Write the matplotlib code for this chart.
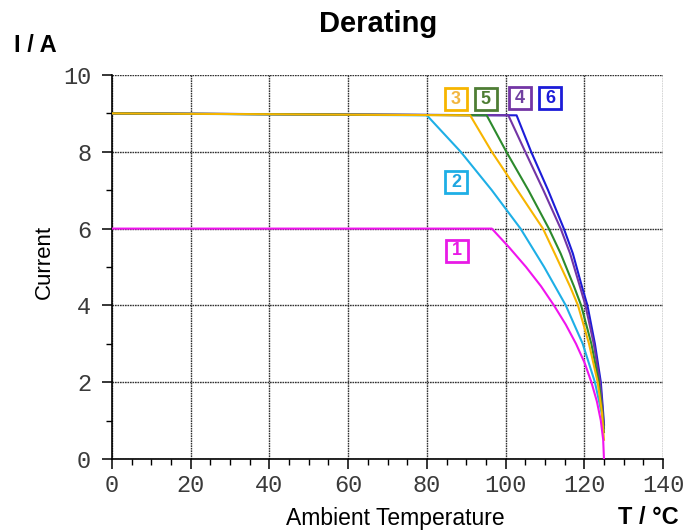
import matplotlib
matplotlib.use("Agg")
import matplotlib.pyplot as plt
from matplotlib.ticker import MultipleLocator

# ---- data ----
t1 = [0, 96.5, 101.0, 105.2, 109.0, 112.3, 115.3, 117.9, 120.1, 121.8, 123.2, 124.2, 124.8, 125.0]
i1 = [6.0, 6.0, 5.5, 5.0, 4.5, 4.0, 3.5, 3.0, 2.5, 2.0, 1.5, 1.0, 0.5, 0.0]

t2 = [0, 80.0, 88.6, 96.5, 103.8, 109.8, 115.3, 119.6, 122.7, 124.4, 125.0]
i2 = [9.0, 8.95, 8.0, 7.0, 6.0, 5.0, 4.0, 3.0, 2.0, 1.2, 0.9]

t3 = [0, 91.0, 96.5, 103.0, 109.5, 112.5, 116.4, 118.4, 121.2, 123.4, 124.5, 125.0]
i3 = [9.0, 8.95, 8.0, 7.0, 6.0, 5.35, 4.49, 4.0, 3.0, 2.0, 1.2, 0.5]

t5 = [0, 95.2, 100.2, 105.8, 111.0, 114.0, 117.4, 119.2, 121.8, 123.7, 124.6, 125.0]
i5 = [9.0, 8.95, 8.0, 7.0, 6.0, 5.35, 4.49, 4.0, 3.0, 2.0, 1.2, 0.7]

t4 = [0, 100.7, 105.0, 109.6, 114.0, 116.4, 118.9, 120.3, 122.4, 124.0, 124.7, 125.0]
i4 = [9.0, 8.95, 8.0, 7.0, 6.0, 5.35, 4.49, 4.0, 3.0, 2.0, 1.2, 0.8]

t6 = [0, 102.8, 106.5, 110.8, 114.8, 117.1, 119.4, 120.8, 122.7, 124.2, 124.8, 125.0]
i6 = [9.0, 8.95, 8.0, 7.0, 6.0, 5.35, 4.49, 4.0, 3.0, 2.0, 1.2, 0.9]

labels = ["1", "2", "3", "4", "5", "6"]
label_t = [87.6, 87.4, 87.4, 103.7, 95.0, 111.3]
label_i = [5.42, 7.21, 9.37, 9.40, 9.37, 9.40]

colors = {"1": "#F014EE", "2": "#1EAFE6", "3": "#F7B500",
          "4": "#7335A5", "5": "#2C8A2C", "6": "#1C1CD8"}
text_colors = {"1": "#E81AE6", "2": "#1EA6E0", "3": "#F2B640",
               "4": "#7040A0", "5": "#4E7D34", "6": "#1C1CD8"}
box_edge = {"1": "#E81AE6", "2": "#1EAFE6", "3": "#F7B500",
            "4": "#7335A5", "5": "#4E7D34", "6": "#1C1CD8"}

xticks = [0, 20, 40, 60, 80, 100, 120, 140]
yticks = [0, 2, 4, 6, 8, 10]

# ---- figure ----
W, H = 697, 531
fig = plt.figure(figsize=(W / 100, H / 100), dpi=100)
ax = fig.add_axes([112 / W, 1 - 459 / H, (663 - 112) / W, (459 - 75) / H])

series = [("2", t2, i2), ("6", t6, i6), ("4", t4, i4), ("5", t5, i5),
          ("3", t3, i3), ("1", t1, i1)]
for key, t, i in series:
    ax.plot(t, i, color=colors[key], lw=1.5, solid_joinstyle="round", zorder=3)

for lab, x, y in zip(labels, label_t, label_i):
    ax.plot(x, y, marker="s", ms=16.5, mfc="white", mec=box_edge[lab], mew=2.0,
            zorder=5, clip_on=False)
    ax.text(x, y, lab, color=text_colors[lab], fontsize=13, fontweight="bold",
            family="Liberation Sans", ha="center", va="center", zorder=6)

ax.set_xlim(0, 140)
ax.set_ylim(0, 10)
ax.set_xticks(xticks)
ax.set_yticks(yticks)
ax.xaxis.set_minor_locator(MultipleLocator(5))
ax.yaxis.set_minor_locator(MultipleLocator(1))
ax.tick_params(which="major", direction="out", length=7, width=1.1, color="black")
ax.tick_params(which="minor", direction="out", length=4, width=1.0, color="black")
ax.tick_params(axis="x", which="major", pad=4)
ax.tick_params(axis="y", which="major", pad=8)
for lbl in ax.get_xticklabels() + ax.get_yticklabels():
    lbl.set_family("Liberation Mono")
    lbl.set_fontsize(17)
    lbl.set_color("#3a3a3a")

ax.grid(True, which="major", color="#333333", linestyle=(0, (1.2, 0.6)), lw=1.0, zorder=1)
for s in ["top", "right"]:
    ax.spines[s].set_visible(False)
for s in ["left", "bottom"]:
    ax.spines[s].set_color("black")
    ax.spines[s].set_linewidth(1.2)

fig.text(378 / W, 1 - 24 / H, "Derating", ha="center", va="center",
         fontsize=21, fontweight="bold", family="Liberation Sans")
fig.text(14 / W, 1 - 45 / H, "I / A", ha="left", va="center",
         fontsize=17, fontweight="bold", family="Liberation Sans")
fig.text(395 / W, 1 - 518 / H, "Ambient Temperature", ha="center", va="center",
         fontsize=16.5, family="Liberation Sans")
fig.text(648 / W, 1 - 518 / H, "T / °C", ha="center", va="center",
         fontsize=17, fontweight="bold", family="Liberation Sans")
fig.text(44 / W, 1 - 262 / H, "Current", ha="center", va="center", rotation=90,
         fontsize=16, family="Liberation Sans")

fig.savefig("out.png", dpi=100)
